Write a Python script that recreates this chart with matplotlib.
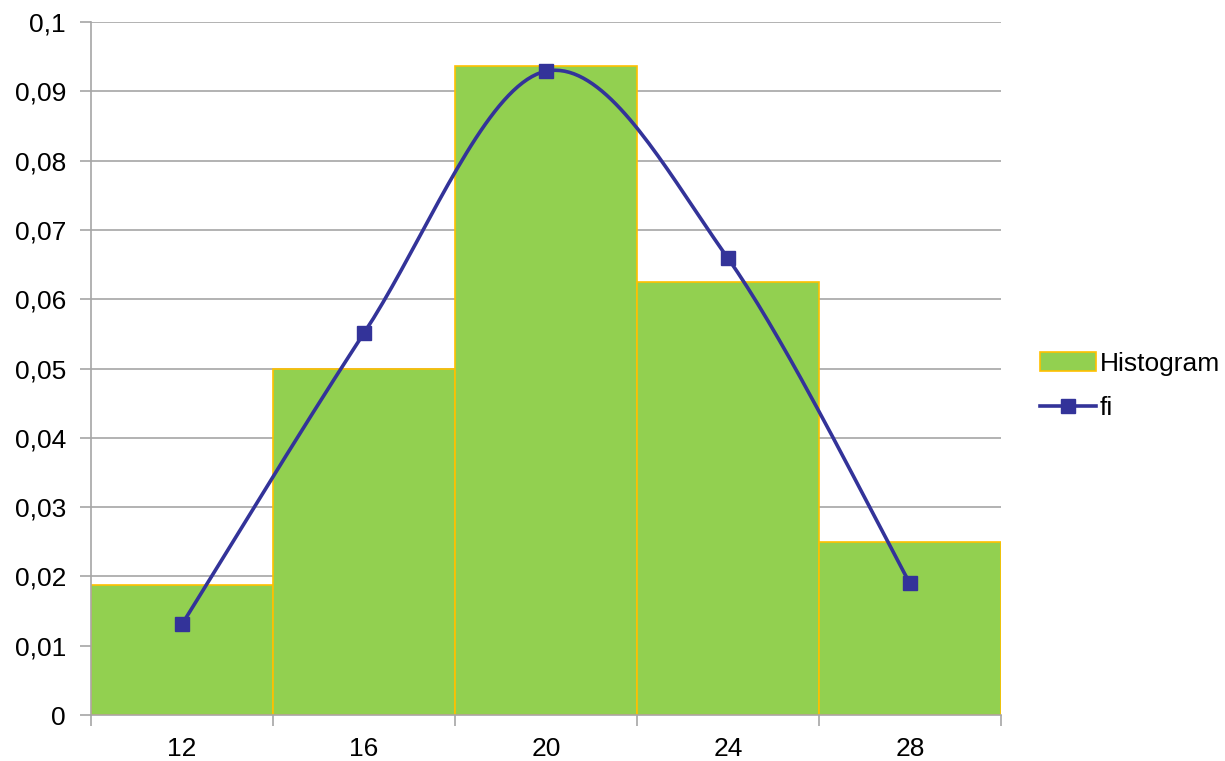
import numpy as np
import matplotlib.pyplot as plt
from matplotlib.patches import Patch
from matplotlib.lines import Line2D

plt.rcParams['font.family'] = ['Liberation Sans', 'DejaVu Sans']

# Données
categories = ['12', '16', '20', '24', '28']
histogram = [0.0188, 0.0500, 0.0937, 0.0625, 0.0250]
fi = [0.0131, 0.0551, 0.0929, 0.0659, 0.0190]
ytick_labels = ['0', '0,01', '0,02', '0,03', '0,04', '0,05', '0,06', '0,07', '0,08', '0,09', '0,1']

bar_color = '#92D050'
edge_color = '#FFC000'
line_color = '#333399'
grid_color = '#A6A6A6'

fig = plt.figure(figsize=(12.25, 7.61), dpi=100)
ax = fig.add_axes([0.0743, 0.0604, 0.8171 - 0.0743, 0.9711 - 0.0604])

x = np.arange(len(categories))
ax.bar(x, histogram, width=1.0, color=bar_color, edgecolor=edge_color, linewidth=1.2, zorder=2)

# Courbe lissée (Bezier façon Excel), calculée en espace écran approx.
sx, sy = 182.0, 6930.0
P = np.column_stack([x * sx, np.array(fi) * sy])
t = np.linspace(0, 1, 40)
xs, ys = [], []
n = len(P)
for i in range(n - 1):
    p0 = P[max(i - 1, 0)]
    p1 = P[i]
    p2 = P[i + 1]
    p3 = P[min(i + 2, n - 1)]
    c1 = p1 + (p2 - p0) / 6.0
    c2 = p2 - (p3 - p1) / 6.0
    b = ((1 - t) ** 3)[:, None] * p1 + (3 * (1 - t) ** 2 * t)[:, None] * c1 \
        + (3 * (1 - t) * t ** 2)[:, None] * c2 + (t ** 3)[:, None] * p2
    xs.append(b[:, 0])
    ys.append(b[:, 1])
xs = np.concatenate(xs) / sx
ys = np.concatenate(ys) / sy
ax.plot(xs, ys, color=line_color, linewidth=2.6, zorder=3)
ax.plot(x, fi, linestyle='none', marker='s', markersize=10, color=line_color, zorder=4)

# Axes
ax.set_xlim(-0.5, 4.5)
ax.set_ylim(0, 0.1)
ax.set_yticks(np.linspace(0, 0.1, 11))
ax.set_yticklabels(ytick_labels)
ax.set_xticks(x)
ax.set_xticklabels(categories)
ax.set_xticks(np.arange(-0.5, 5, 1.0), minor=True)
ax.tick_params(axis='x', which='major', length=0, pad=16, labelsize=19)
ax.tick_params(axis='x', which='minor', length=8, color=grid_color, width=1.2)
ax.tick_params(axis='y', length=8, color=grid_color, width=1.2, pad=10, labelsize=19)
ax.grid(axis='y', color=grid_color, linewidth=1.2, zorder=0)
ax.set_axisbelow(True)
for s in ['top', 'right']:
    ax.spines[s].set_visible(False)
for s in ['left', 'bottom']:
    ax.spines[s].set_color(grid_color)
    ax.spines[s].set_linewidth(1.2)

handles = [Patch(facecolor=bar_color, edgecolor=edge_color, linewidth=1.2),
           Line2D([], [], color=line_color, linewidth=2.6, marker='s', markersize=10)]
ax.legend(handles, ['Histogram', 'fi'], loc='center left', bbox_to_anchor=(1.017, 0.475),
          frameon=False, fontsize=19, handlelength=2.1, handletextpad=0.15, labelspacing=0.75)

fig.savefig('out.png', dpi=100)
